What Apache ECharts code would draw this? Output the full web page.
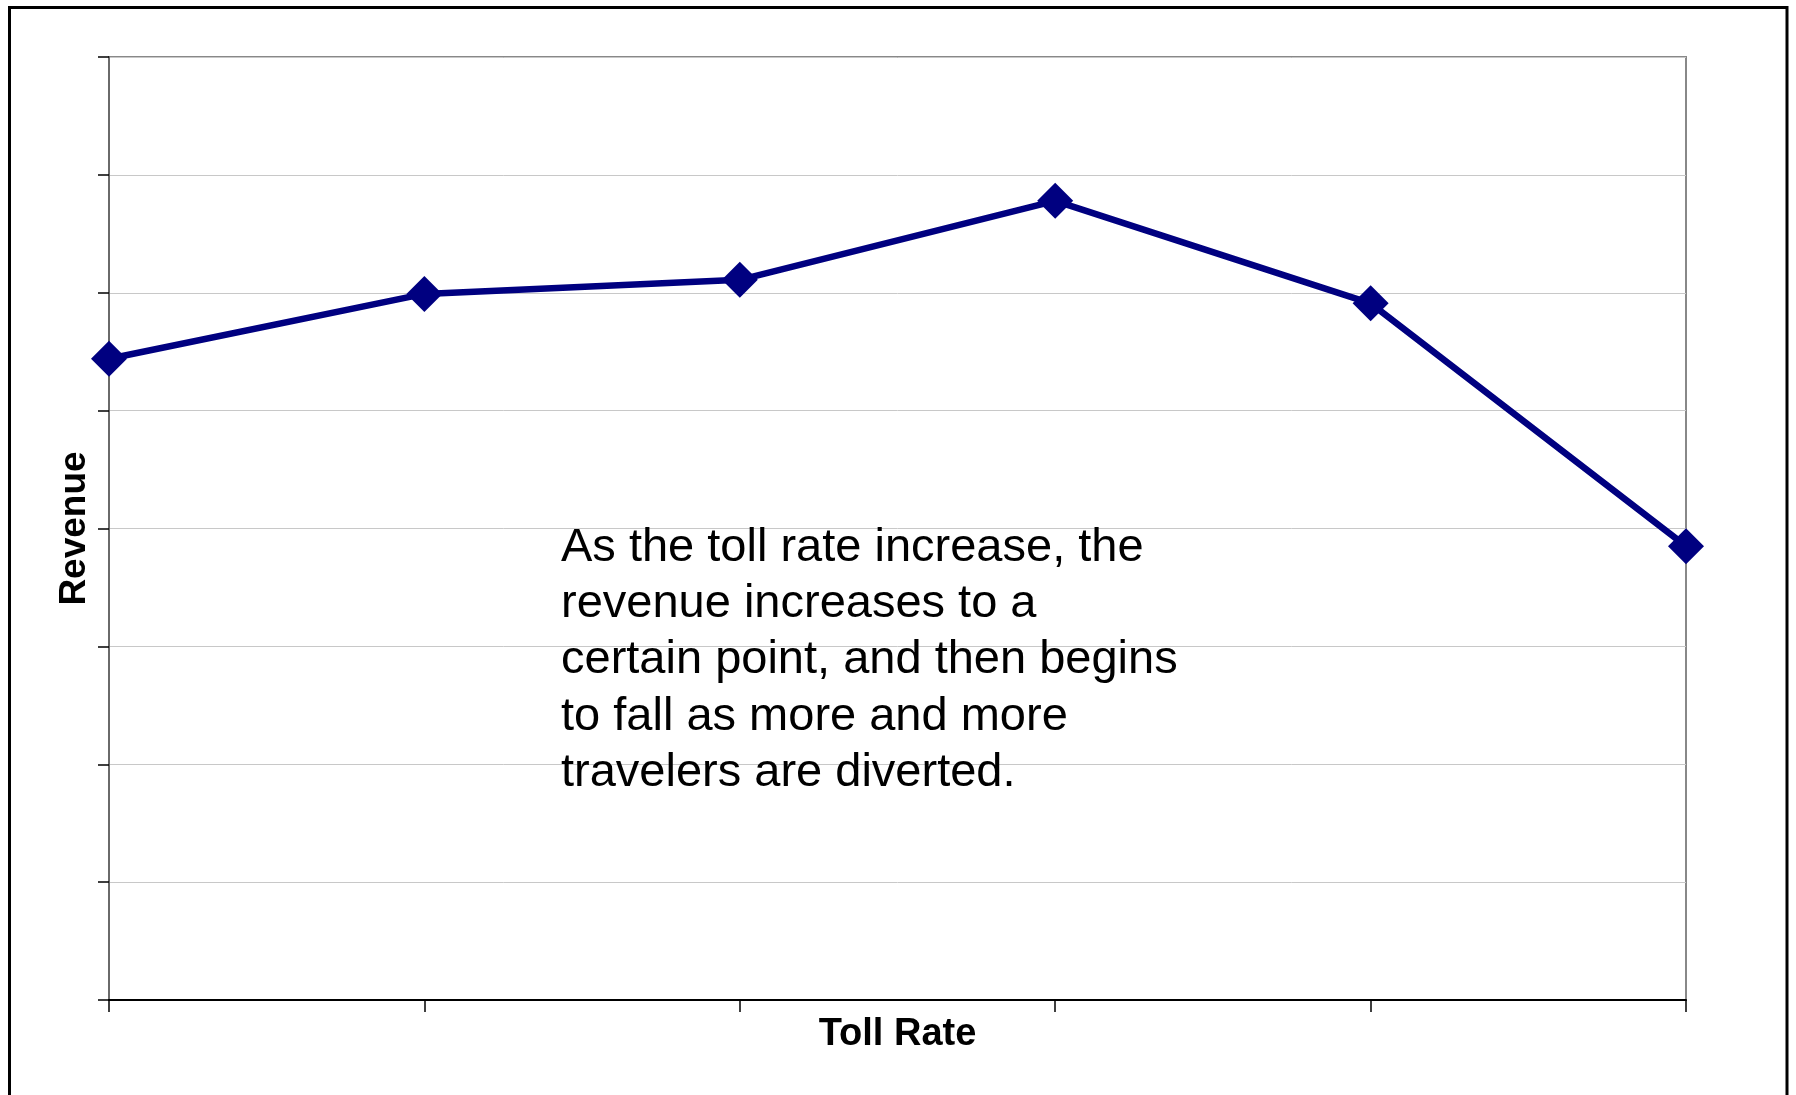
<!DOCTYPE html>
<html>
<head>
<meta charset="utf-8">
<title>Toll Rate vs Revenue</title>
<script src="https://cdn.jsdelivr.net/npm/echarts@6/dist/echarts.min.js"></script>
<style>
  html, body { margin: 0; padding: 0; background: #fff; }
  #chart { width: 1796px; height: 1095px; }
</style>
</head>
<body>
<div id="chart"></div>
<script>
// Toll rate steps (unlabelled on the axis) and the revenue at each step
var tollSteps = ['1', '2', '3', '4', '5', '6'];
var revenue = [5.44, 5.99, 6.11, 6.78, 5.91, 3.85];

// Value axis range and gridline spacing (no tick labels are shown)
var revenueMin = 0;
var revenueMax = 8;
var revenueStep = 1;

var noteLines = [
  'As the toll rate increase, the',
  'revenue increases to a',
  'certain point, and then begins',
  'to fall as more and more',
  'travelers are diverted.'
];

var font = '"Liberation Sans", Arial, Helvetica, sans-serif';

var chart = echarts.init(document.getElementById('chart'), null, { renderer: 'canvas' });

chart.setOption({
  animation: false,
  backgroundColor: '#ffffff',
  grid: {
    left: 109,
    top: 57,
    right: 110,
    bottom: 95,
    show: true,
    borderColor: '#888888',
    borderWidth: 2,
    backgroundColor: 'transparent'
  },
  xAxis: {
    type: 'category',
    data: tollSteps,
    boundaryGap: false,
    name: 'Toll Rate',
    nameLocation: 'middle',
    nameGap: 15.5,
    nameTextStyle: {
      fontFamily: font,
      fontSize: 38,
      fontWeight: 'bold',
      color: '#000000',
      verticalAlign: 'top'
    },
    axisLine: { show: true, lineStyle: { color: '#000000', width: 2 } },
    axisTick: { show: true, inside: false, length: 12, alignWithLabel: true, lineStyle: { color: '#000000', width: 1.5 } },
    axisLabel: { show: false },
    splitLine: { show: false }
  },
  yAxis: {
    type: 'value',
    min: revenueMin,
    max: revenueMax,
    interval: revenueStep,
    name: 'Revenue',
    nameLocation: 'middle',
    nameRotate: 90,
    nameGap: 15.5,
    nameTextStyle: {
      fontFamily: font,
      fontSize: 37,
      fontWeight: 'bold',
      color: '#000000'
    },
    axisLine: { show: true, lineStyle: { color: '#6a6a6a', width: 2 } },
    axisTick: { show: true, inside: false, length: 11, lineStyle: { color: '#000000', width: 1.5 } },
    axisLabel: { show: false },
    splitLine: { show: true, lineStyle: { color: '#c8c8c8', width: 1 } }
  },
  series: [{
    type: 'line',
    data: revenue,
    color: '#000080',
    lineStyle: { color: '#000080', width: 6.5 },
    itemStyle: { color: '#000080' },
    symbol: 'diamond',
    symbolSize: 36,
    showSymbol: true,
    showAllSymbol: true,
    z: 5
  }],
  graphic: [
    {
      type: 'rect',
      silent: true,
      z: 100,
      shape: { x: 9.5, y: 7.5, width: 1777.5, height: 1200 },
      style: { fill: null, stroke: '#000000', lineWidth: 3 }
    },
    {
      type: 'text',
      silent: true,
      z: 50,
      left: 561,
      top: 519.5,
      style: {
        text: noteLines.join('\n'),
        fontFamily: font,
        fontSize: 47,
        lineHeight: 56.3,
        fill: '#000000'
      }
    }
  ]
});
</script>
</body>
</html>
